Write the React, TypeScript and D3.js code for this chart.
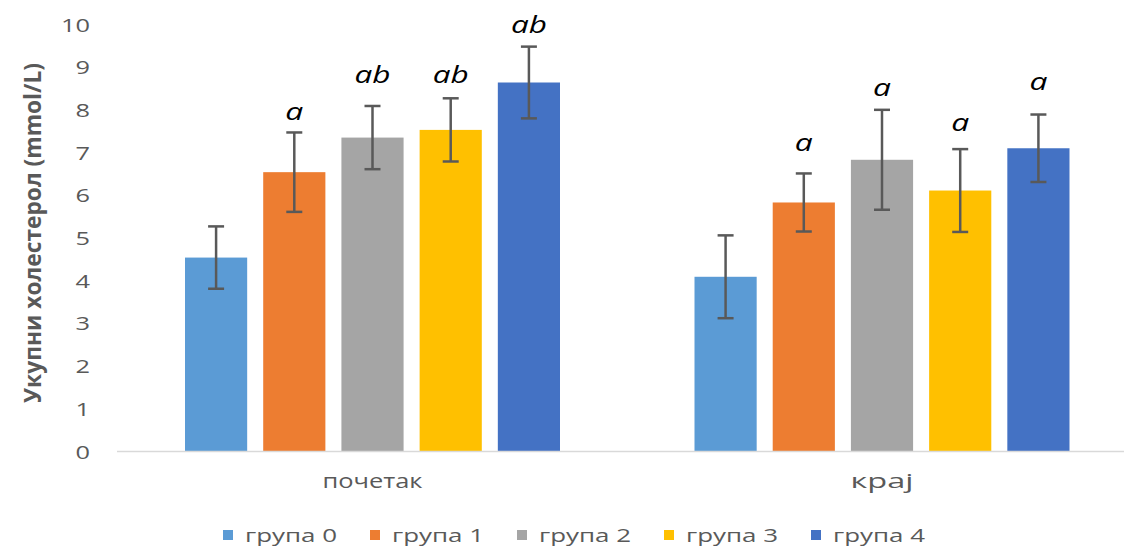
import React from "react";
import * as d3 from "d3";

const categories = ["почетак", "крај"];
const groups = ["група 0", "група 1", "група 2", "група 3", "група 4"];
const colors = ["#5B9BD5", "#ED7D31", "#A5A5A5", "#FFC000", "#4472C4"];

const meansStart = [4.53, 6.53, 7.34, 7.52, 8.63];
const meansEnd = [4.08, 5.82, 6.82, 6.1, 7.09];
const errStart = [0.73, 0.93, 0.74, 0.74, 0.84];
const errEnd = [0.97, 0.68, 1.17, 0.97, 0.79];
const lettersStart = ["", "a", "ab", "ab", "ab"];
const lettersEnd = ["", "a", "a", "a", "a"];
const letterPosStart = [0, 7.75, 8.62, 8.62, 9.79];
const letterPosEnd = [0, 7.03, 8.31, 7.49, 8.45];
const yTicks = [0, 1, 2, 3, 4, 5, 6, 7, 8, 9, 10];
const yTitle = "Укупни холестерол (mmol/L)";

const W = 1124;
const H = 546;
const TXT = "#595959";
const FONT = "'Open Sans', sans-serif";

export default function App() {
  const y = d3.scaleLinear().domain([0, 10]).range([451, 24]);
  const x0 = d3.scaleBand<string>().domain(categories).range([117.75, 1136.75]).padding(0);
  const x1 = d3
    .scaleBand<string>()
    .domain(groups)
    .range([67.25, 442.25])
    .paddingInner(0.205)
    .paddingOuter(0);

  const series = [
    { means: meansStart, errs: errStart, letters: lettersStart, lpos: letterPosStart },
    { means: meansEnd, errs: errEnd, letters: lettersEnd, lpos: letterPosEnd },
  ];

  const catWidths: Record<string, number> = { "почетак": 100, "крај": 63 };

  return (
    <svg
      width={W}
      height={H}
      style={{ position: "absolute", left: 0, top: 0, background: "#fff" }}
      fontFamily={FONT}
    >
      <rect x={0} y={0} width={W} height={H} fill="#fff" />
      {yTicks.map((t) => (
        <text
          key={t}
          x={90}
          y={y(t)}
          textAnchor="end"
          dominantBaseline="central"
          fontSize={18.5}
          fill={TXT}
          textLength={String(t).length * 14.5}
          lengthAdjust="spacingAndGlyphs"
        >
          {t}
        </text>
      ))}
      <text
        transform={`translate(32,${233}) rotate(-90)`}
        textAnchor="middle"
        dominantBaseline="central"
        fontSize={23}
        fontWeight="bold"
        fill={TXT}
        textLength={340}
        lengthAdjust="spacingAndGlyphs"
      >
        {yTitle}
      </text>
      {categories.map((c, ci) => {
        const s = series[ci];
        const bx = x0(c)!;
        return (
          <g key={c}>
            {groups.map((g, gi) => {
              const xx = bx + x1(g)!;
              const bw = x1.bandwidth();
              const cx = xx + bw / 2;
              const v = s.means[gi];
              const e = s.errs[gi];
              return (
                <g key={g}>
                  <rect x={xx} y={y(v)} width={bw} height={y(0) - y(v)} fill={colors[gi]} />
                  <line x1={cx} x2={cx} y1={y(v + e)} y2={y(v - e)} stroke="#595959" strokeWidth={2.5} />
                  <line x1={cx - 8} x2={cx + 8} y1={y(v + e)} y2={y(v + e)} stroke="#595959" strokeWidth={2.5} />
                  <line x1={cx - 8} x2={cx + 8} y1={y(v - e)} y2={y(v - e)} stroke="#595959" strokeWidth={2.5} />
                  {s.letters[gi] && (
                    <text
                      x={cx}
                      y={y(s.lpos[gi])}
                      textAnchor="middle"
                      fontSize={24}
                      fontStyle="italic"
                      fill="#000"
                      textLength={s.letters[gi].length * 18}
                      lengthAdjust="spacingAndGlyphs"
                    >
                      {s.letters[gi]}
                    </text>
                  )}
                </g>
              );
            })}
            <text
              x={bx + x0.bandwidth() / 2}
              y={488}
              textAnchor="middle"
              fontSize={20}
              fill={TXT}
              textLength={catWidths[c]}
              lengthAdjust="spacingAndGlyphs"
            >
              {c}
            </text>
          </g>
        );
      })}
      <line x1={117} x2={W} y1={y(0) + 0.5} y2={y(0) + 0.5} stroke="#D9D9D9" strokeWidth={1.5} />
      {groups.map((g, gi) => {
        const lx = 223 + gi * 147;
        return (
          <g key={g}>
            <rect x={lx} y={530} width={10} height={10} fill={colors[gi]} />
            <text
              x={lx + 22}
              y={541.5}
              fontSize={19}
              fill={TXT}
              textLength={92}
              lengthAdjust="spacingAndGlyphs"
            >
              {g}
            </text>
          </g>
        );
      })}
    </svg>
  );
}
